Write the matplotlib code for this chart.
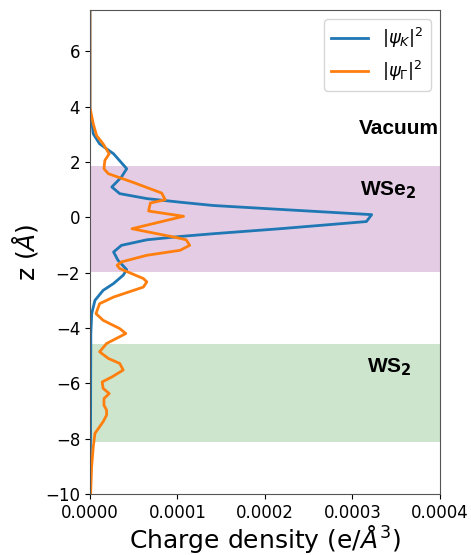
import matplotlib.pyplot as plt
import numpy as np

# |psi_K|^2 profile along z (Angstrom) and its charge density (e/A^3)
z_K = [7.5, 3.86, 3.50, 3.02, 2.66, 2.30, 1.76, 1.46, 1.10, 0.86, 0.68, 0.55,
       0.43, 0.29, 0.10, -0.15, -0.41, -0.59, -0.69, -0.81, -1.01, -1.25, -1.55,
       -1.89, -2.09, -2.39, -2.64, -3.00, -3.48, -4.20, -6.00, -7.90, -10.0]
rho_K = [0.0, 0.0, 2.0e-6, 3.8e-6, 1.1e-5, 2.7e-5, 4.2e-5, 3.6e-5, 2.5e-5,
         3.4e-5, 6.5e-5, 1.03e-4, 1.41e-4, 2.17e-4, 3.22e-4, 3.16e-4, 2.17e-4,
         1.41e-4, 1.03e-4, 6.5e-5, 3.6e-5, 2.7e-5, 3.2e-5, 4.2e-5, 3.8e-5,
         2.7e-5, 1.5e-5, 5.7e-6, 2.0e-6, 1.0e-6, 0.8e-6, 0.7e-6, 0.0]

# |psi_Gamma|^2 profile
z_G = [7.5, 3.97, 3.38, 2.96, 2.66, 2.30, 2.06, 1.76, 1.58, 1.27, 0.88, 0.64,
       0.52, 0.23, 0.04, -0.41, -0.73, -0.81, -1.01, -1.19, -1.37, -1.61, -1.73,
       -1.85, -2.21, -2.33, -2.52, -2.88, -3.12, -3.48, -3.72, -4.02, -4.20,
       -4.38, -4.56, -4.86, -5.10, -5.28, -5.52, -5.77, -5.95, -6.18, -6.37,
       -6.55, -6.79, -6.97, -7.15, -7.39, -7.81, -8.29, -9.01, -9.97]
rho_G = [0.0, 0.0, 3.8e-6, 7.6e-6, 1.5e-5, 2.2e-5, 1.7e-5, 1.6e-5, 2.1e-5,
         4.9e-5, 8.2e-5, 8.6e-5, 6.9e-5, 6.7e-5, 1.07e-4, 4.8e-5, 9.9e-5,
         1.1e-4, 1.14e-4, 1.03e-4, 6.5e-5, 3.6e-5, 3.1e-5, 3.4e-5, 6.1e-5,
         6.5e-5, 6.1e-5, 2.7e-5, 1.1e-5, 6.9e-6, 1.5e-5, 3.4e-5, 4.1e-5, 3.0e-5,
         1.9e-5, 1.1e-5, 2.1e-5, 3.4e-5, 3.8e-5, 2.5e-5, 1.4e-5, 1.5e-5, 2.2e-5,
         1.6e-5, 1.6e-5, 1.9e-5, 1.9e-5, 1.5e-5, 5.7e-6, 3.8e-6, 1.9e-6, 0.8e-6]

# layer extents along z
wse2_span = (-1.97, 1.85)
ws2_span = (-8.13, -4.56)

fig, ax = plt.subplots(figsize=(4.71, 5.55), dpi=100)
fig.subplots_adjust(left=0.191, right=0.934, top=0.982, bottom=0.11)

ax.axhspan(*wse2_span, color='purple', alpha=0.2, lw=0)
ax.axhspan(*ws2_span, color='green', alpha=0.2, lw=0)

ax.plot(rho_K, z_K, color='#1f77b4', lw=2, label=r'$|\psi_K|^2$')
ax.plot(rho_G, z_G, color='#ff7f0e', lw=2, label=r'$|\psi_\Gamma|^2$')

bold = dict(fontsize=15, fontweight='bold', family='Liberation Sans', ha='center', va='center')
ax.text(0.000353, 3.2, 'Vacuum', **bold)
ax.text(0.000341, 1.0, r'WSe$_\mathbf{2}$', **bold)
ax.text(0.000342, -5.4, r'WS$_\mathbf{2}$', **bold)

ax.set_xlim(0, 0.0004)
ax.set_ylim(-10, 7.5)
ax.set_xticks([0, 0.0001, 0.0002, 0.0003, 0.0004])
ax.set_xticklabels(['0.0000', '0.0001', '0.0002', '0.0003', '0.0004'])
ax.set_yticks([-10, -8, -6, -4, -2, 0, 2, 4, 6])
ax.tick_params(labelsize=12)
ax.set_xlabel(r'Charge density (e/$\AA^3$)', fontsize=18, labelpad=1)
ax.set_ylabel(r'z ($\AA$)', fontsize=18)
for s in ax.spines.values():
    s.set_color('#555555')

ax.legend(loc='upper right', fontsize=13)

plt.savefig('out.png', dpi=100)
